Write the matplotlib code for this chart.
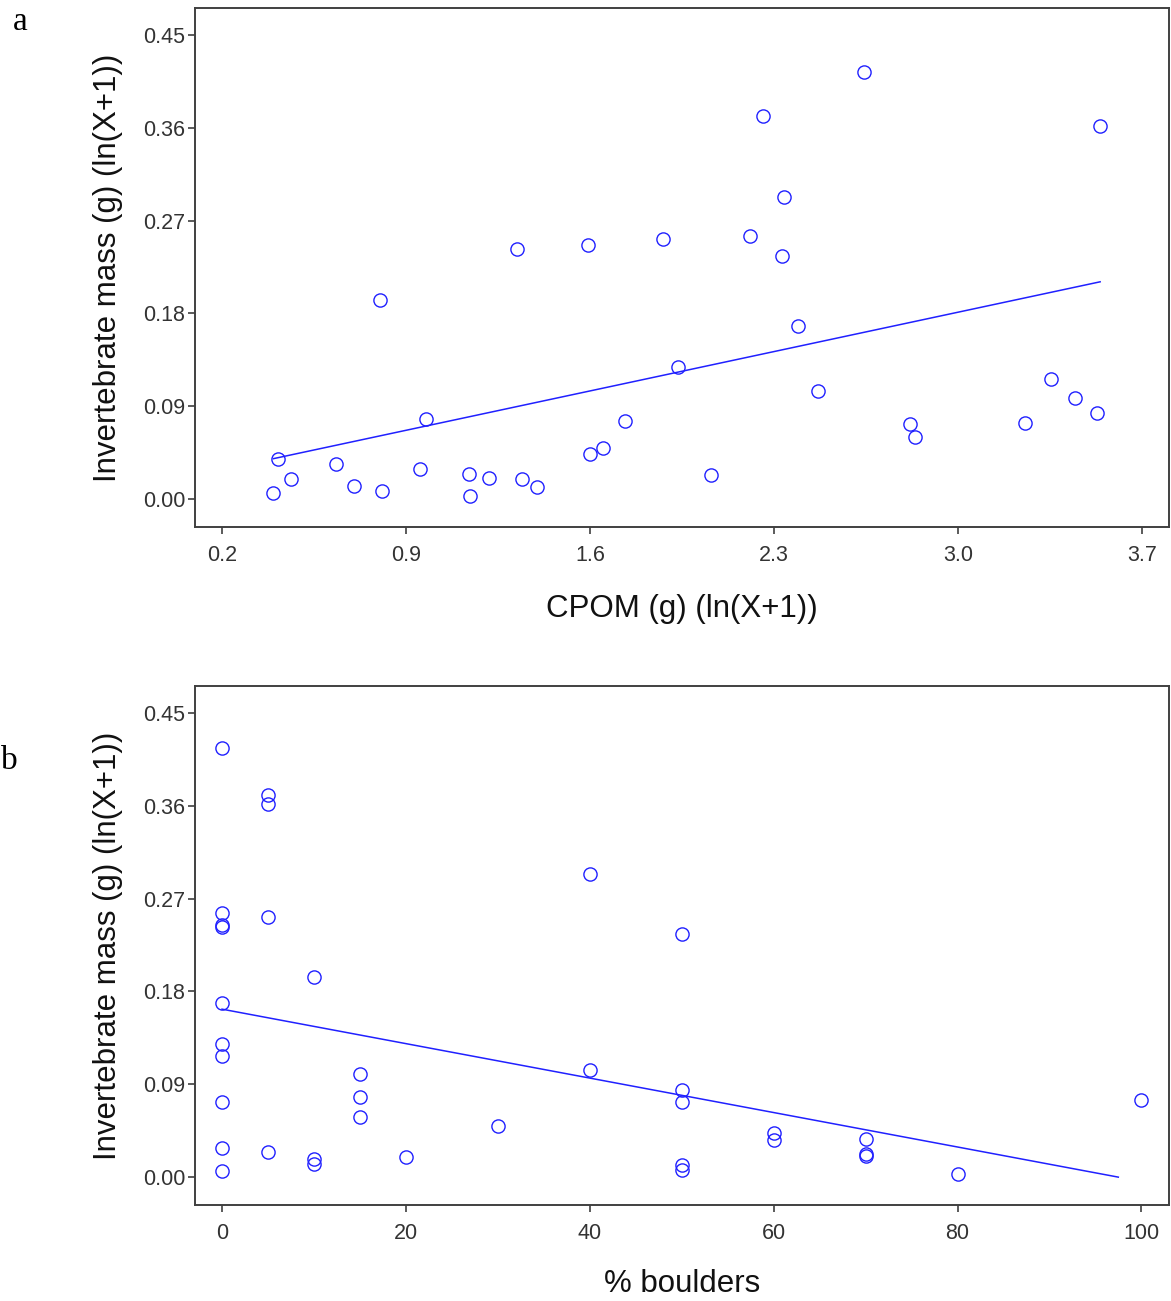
import numpy as np
import matplotlib
matplotlib.use("Agg")
import matplotlib.pyplot as plt

# Panel a: invertebrate mass against CPOM, both ln(X+1) transformed
cpom = [0.396, 0.412, 0.463, 0.632, 0.704, 0.802, 0.809, 0.952, 0.978, 1.139,
        1.145, 1.217, 1.322, 1.342, 1.398, 1.592, 1.601, 1.651, 1.734, 1.878,
        1.936, 2.059, 2.208, 2.258, 2.330, 2.340, 2.390, 2.467, 2.644, 2.819,
        2.835, 3.255, 3.353, 3.447, 3.530, 3.541]
mass_a = [0.0062, 0.0389, 0.0192, 0.0344, 0.0131, 0.1933, 0.0078, 0.0291, 0.0781, 0.0245,
          0.0035, 0.0206, 0.2424, 0.0192, 0.0121, 0.2463, 0.0442, 0.0497, 0.0756, 0.2522,
          0.1279, 0.0232, 0.2552, 0.3713, 0.2355, 0.2928, 0.1681, 0.1046, 0.4138, 0.0729,
          0.0599, 0.0742, 0.1161, 0.0978, 0.0840, 0.3615]
fit_a = (0.0177, 0.0545)          # intercept, slope

# Panel b: invertebrate mass against % boulders
boulders = [0, 5, 5, 0, 0, 0, 5, 10, 0, 0,
            0, 15, 15, 15, 0, 30, 0, 5, 10, 10,
            20, 0, 40, 40, 50, 50, 50, 50, 50, 60,
            60, 70, 70, 70, 80, 100]
mass_b = [0.4155, 0.3708, 0.3617, 0.2556, 0.2445, 0.2428, 0.2524, 0.1936, 0.1684, 0.1290,
          0.1175, 0.0995, 0.0781, 0.0584, 0.0725, 0.0498, 0.0286, 0.0246, 0.0180, 0.0131,
          0.0193, 0.0062, 0.2934, 0.1034, 0.2356, 0.0840, 0.0725, 0.0114, 0.0069, 0.0429,
          0.0357, 0.0374, 0.0223, 0.0207, 0.0035, 0.0751]
fit_b = (0.1628, -0.00167)

y_ticks = [0.00, 0.09, 0.18, 0.27, 0.36, 0.45]
x_ticks_a = [0.2, 0.9, 1.6, 2.3, 3.0, 3.7]
x_ticks_b = [0, 20, 40, 60, 80, 100]

ylabel = "Invertebrate mass (g) (ln(X+1))"

plt.rcParams['font.family'] = ['Liberation Sans', 'DejaVu Sans']

FRAME = '#404040'
BLUE = '#2020ff'

fig = plt.figure(figsize=(11.71, 13.01), dpi=100)
ax_a = fig.add_axes([0.1665, 0.5949, 0.8318, 0.3989])
ax_b = fig.add_axes([0.1665, 0.0738, 0.8318, 0.3989])


def style_axis(ax, xticks, xfmt):
    ax.set_ylim(-0.027, 0.476)
    ax.set_yticks(y_ticks)
    ax.set_yticklabels([f"{t:.2f}" for t in y_ticks])
    ax.set_xticks(xticks)
    ax.set_xticklabels([xfmt(t) for t in xticks])
    for sp in ax.spines.values():
        sp.set_color(FRAME)
        sp.set_linewidth(1.4)
    ax.tick_params(axis='both', direction='out', color=FRAME, width=1.2,
                   labelsize=15.5, labelcolor='#333333')
    ax.tick_params(axis='y', length=5, pad=2)
    ax.tick_params(axis='x', length=5, pad=8)
    ax.set_ylabel(ylabel, fontsize=22.5, labelpad=14, color='#111111')


# --- panel a ---
ax_a.plot(cpom, mass_a, 'o', ms=9.5, mfc='none', mec=BLUE, mew=1.0)
xa = np.array([min(cpom), max(cpom)])
ax_a.plot(xa, fit_a[0] + fit_a[1] * xa, color=BLUE, lw=1.1)
ax_a.set_xlim(0.0973, 3.803)
style_axis(ax_a, x_ticks_a, lambda t: f"{t:.1f}")
ax_a.set_xlabel("CPOM (g) (ln(X+1))", fontsize=22.5, labelpad=20, color='#111111')

# --- panel b ---
ax_b.plot(boulders, mass_b, 'o', ms=9.5, mfc='none', mec=BLUE, mew=1.0)
# fitted line runs from 0 % until it reaches zero mass
xb = np.array([0.0, -fit_b[0] / fit_b[1]])
ax_b.plot(xb, fit_b[0] + fit_b[1] * xb, color=BLUE, lw=1.1)
ax_b.set_xlim(-2.94, 103.0)
style_axis(ax_b, x_ticks_b, lambda t: f"{t:d}")
ax_b.set_xlabel("% boulders", fontsize=22.5, labelpad=18, color='#111111')

# panel letters
fig.text(20 / 1171, 1 - 22 / 1301, "a", fontsize=24, family='Liberation Serif',
         ha='center', va='center')
fig.text(9 / 1171, 1 - 761 / 1301, "b", fontsize=24, family='Liberation Serif',
         ha='center', va='center')

fig.savefig("out.png", dpi=100)
